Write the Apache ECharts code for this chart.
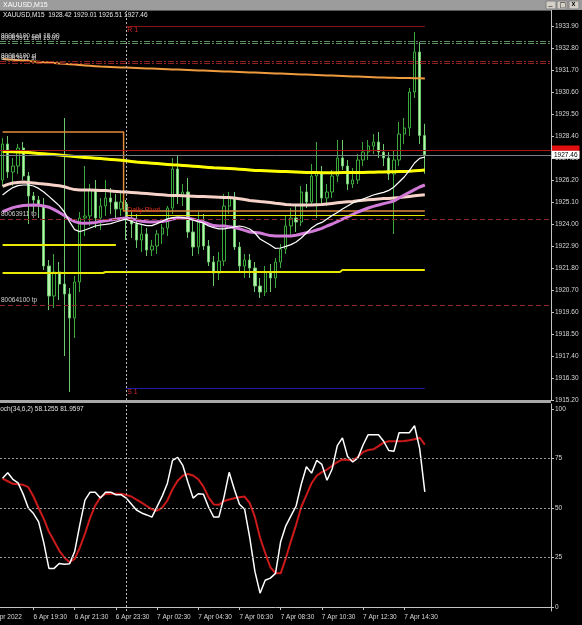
<!DOCTYPE html>
<html>
<head>
<meta charset="utf-8">
<title>XAUUSD,M15</title>
<script src="https://cdn.jsdelivr.net/npm/echarts@6/dist/echarts.min.js"></script>
<style>
  html, body { margin: 0; padding: 0; background: #000; }
  #chart { width: 582px; height: 625px; }
</style>
</head>
<body>
<div id="chart"></div>
<script>
// bars on the chart (M15)
const barTimes = [
  '6 Apr 18:00', '6 Apr 18:15', '6 Apr 18:30', '6 Apr 18:45', '6 Apr 19:00', '6 Apr 19:15', '6 Apr 19:30', '6 Apr 19:45',
  '6 Apr 20:00', '6 Apr 20:15', '6 Apr 20:30', '6 Apr 20:45', '6 Apr 21:00', '6 Apr 21:15', '6 Apr 21:30', '6 Apr 21:45',
  '6 Apr 22:00', '6 Apr 22:15', '6 Apr 22:30', '6 Apr 22:45', '6 Apr 23:00', '6 Apr 23:15', '6 Apr 23:30', '6 Apr 23:45',
  '7 Apr 01:00', '7 Apr 01:15', '7 Apr 01:30', '7 Apr 01:45', '7 Apr 02:00', '7 Apr 02:15', '7 Apr 02:30', '7 Apr 02:45',
  '7 Apr 03:00', '7 Apr 03:15', '7 Apr 03:30', '7 Apr 03:45', '7 Apr 04:00', '7 Apr 04:15', '7 Apr 04:30', '7 Apr 04:45',
  '7 Apr 05:00', '7 Apr 05:15', '7 Apr 05:30', '7 Apr 05:45', '7 Apr 06:00', '7 Apr 06:15', '7 Apr 06:30', '7 Apr 06:45',
  '7 Apr 07:00', '7 Apr 07:15', '7 Apr 07:30', '7 Apr 07:45', '7 Apr 08:00', '7 Apr 08:15', '7 Apr 08:30', '7 Apr 08:45',
  '7 Apr 09:00', '7 Apr 09:15', '7 Apr 09:30', '7 Apr 09:45', '7 Apr 10:00', '7 Apr 10:15', '7 Apr 10:30', '7 Apr 10:45',
  '7 Apr 11:00', '7 Apr 11:15', '7 Apr 11:30', '7 Apr 11:45', '7 Apr 12:00', '7 Apr 12:15', '7 Apr 12:30', '7 Apr 12:45',
  '7 Apr 13:00', '7 Apr 13:15', '7 Apr 13:30', '7 Apr 13:45', '7 Apr 14:00', '7 Apr 14:15', '7 Apr 14:30', '7 Apr 14:45',
  '7 Apr 15:00', '7 Apr 15:15', '7 Apr 15:30'
];
const timeLabels = ['6 Apr 19:30', '6 Apr 21:30', '6 Apr 23:30', '7 Apr 02:30', '7 Apr 04:30',
  '7 Apr 06:30', '7 Apr 08:30', '7 Apr 10:30', '7 Apr 12:30', '7 Apr 14:30'];

const opens = [
  1926.2, 1928.0, 1926.6, 1926.9, 1927.8, 1926.4, 1925.4, 1925.2, 1924.9, 1921.9,
  1920.4, 1921.6, 1921.0, 1920.5, 1919.3, 1921.1, 1924.3, 1924.4, 1925.7, 1924.3,
  1924.9, 1925.3, 1925.1, 1924.75, 1925.0, 1924.2, 1924.0, 1923.2, 1923.5, 1922.7,
  1922.9, 1923.5, 1923.8, 1924.8, 1926.75, 1925.4, 1925.6, 1923.6, 1922.85, 1924.1,
  1922.9, 1922.1, 1921.55, 1922.15, 1924.9, 1925.3, 1922.85, 1921.9, 1922.2, 1921.8,
  1920.9, 1920.6, 1921.6, 1921.3, 1922.1, 1922.75, 1923.9, 1924.3, 1924.1, 1925.6,
  1925.1, 1926.4, 1926.6, 1925.3, 1925.6, 1926.4, 1927.3, 1926.9, 1926.0, 1926.2,
  1927.2, 1927.6, 1927.9, 1928.1, 1927.6, 1927.3, 1926.5, 1927.2, 1928.5, 1928.8,
  1930.6, 1932.6, 1928.42
];
const highs = [
  1928.3, 1928.4, 1927.3, 1928.0, 1928.1, 1926.6, 1925.6, 1925.4, 1925.3, 1922.2,
  1922.5, 1922.1, 1929.3, 1920.8, 1921.4, 1924.6, 1926.9, 1926.0, 1926.2, 1925.3,
  1926.2, 1925.8, 1925.5, 1925.6, 1925.2, 1924.6, 1924.5, 1924.0, 1923.8, 1923.2,
  1923.7, 1924.0, 1924.9, 1927.3, 1927.4, 1926.0, 1926.3, 1924.3, 1924.6, 1924.5,
  1923.2, 1922.4, 1922.6, 1925.5, 1925.6, 1925.6, 1923.1, 1922.5, 1922.5, 1922.1,
  1921.3, 1921.9, 1922.0, 1922.3, 1923.0, 1924.4, 1924.8, 1924.9, 1925.9, 1926.0,
  1927.0, 1928.1, 1926.9, 1926.0, 1926.7, 1928.2, 1928.2, 1927.2, 1926.8, 1927.5,
  1928.1, 1928.2, 1928.5, 1928.6, 1928.0, 1927.6, 1927.7, 1929.1, 1929.3, 1930.8,
  1933.6, 1933.1, 1929.01
];
const lows = [
  1925.9, 1926.3, 1925.9, 1926.5, 1926.2, 1924.0, 1924.6, 1924.3, 1921.7, 1919.7,
  1919.8, 1920.2, 1917.4, 1915.6, 1918.3, 1920.6, 1923.4, 1923.9, 1923.8, 1923.7,
  1924.4, 1924.5, 1924.2, 1924.4, 1923.2, 1923.3, 1922.8, 1922.6, 1922.4, 1922.4,
  1922.5, 1923.0, 1923.4, 1924.5, 1925.0, 1924.9, 1923.3, 1922.4, 1922.5, 1922.7,
  1921.9, 1920.9, 1921.2, 1921.9, 1924.5, 1922.7, 1921.6, 1921.3, 1921.3, 1920.6,
  1920.3, 1920.4, 1920.6, 1920.8, 1921.8, 1922.5, 1923.4, 1923.6, 1923.9, 1924.8,
  1924.9, 1924.3, 1925.0, 1924.9, 1925.3, 1926.1, 1926.7, 1925.7, 1925.8, 1926.0,
  1926.9, 1927.2, 1927.5, 1927.3, 1926.9, 1926.2, 1923.5, 1926.9, 1928.0, 1928.4,
  1930.3, 1928.0, 1926.51
];
const closes = [
  1928.0, 1926.6, 1926.9, 1927.8, 1926.4, 1925.4, 1925.2, 1924.9, 1921.9, 1920.4,
  1921.6, 1921.0, 1920.5, 1919.3, 1921.1, 1924.3, 1924.4, 1925.7, 1924.3, 1924.9,
  1925.3, 1925.1, 1924.75, 1925.1, 1924.2, 1924.0, 1923.2, 1923.5, 1922.7, 1922.9,
  1923.5, 1923.8, 1924.8, 1926.75, 1925.4, 1925.6, 1923.6, 1922.85, 1924.1, 1922.9,
  1922.1, 1921.55, 1922.15, 1924.9, 1925.3, 1922.85, 1921.9, 1922.2, 1921.8, 1920.9,
  1920.6, 1921.6, 1921.3, 1922.1, 1922.75, 1923.9, 1924.3, 1924.1, 1925.6, 1925.1,
  1926.4, 1926.6, 1925.3, 1925.6, 1926.4, 1927.3, 1926.9, 1926.0, 1926.2, 1927.2,
  1927.6, 1927.9, 1928.1, 1927.6, 1927.3, 1926.5, 1927.2, 1928.5, 1928.8, 1930.6,
  1932.6, 1928.42, 1927.46
];

// moving averages
const maYellow = [
  1927.62, 1927.62, 1927.61, 1927.60, 1927.59, 1927.57, 1927.55, 1927.53, 1927.51, 1927.49,
  1927.47, 1927.45, 1927.43, 1927.40, 1927.37, 1927.35, 1927.33, 1927.31, 1927.29, 1927.27,
  1927.25, 1927.23, 1927.21, 1927.19, 1927.16, 1927.13, 1927.10, 1927.08, 1927.06, 1927.04,
  1927.02, 1927.00, 1926.98, 1926.96, 1926.95, 1926.93, 1926.91, 1926.89, 1926.87, 1926.85,
  1926.83, 1926.81, 1926.80, 1926.79, 1926.78, 1926.76, 1926.74, 1926.72, 1926.70, 1926.68,
  1926.67, 1926.66, 1926.65, 1926.64, 1926.63, 1926.62, 1926.61, 1926.60, 1926.59, 1926.58,
  1926.57, 1926.57, 1926.56, 1926.56, 1926.56, 1926.56, 1926.57, 1926.57, 1926.57, 1926.58,
  1926.58, 1926.59, 1926.59, 1926.60, 1926.60, 1926.61, 1926.61, 1926.62, 1926.63, 1926.64,
  1926.66, 1926.68, 1926.70
];
const maPink = [
  1925.88, 1925.98, 1926.05, 1926.08, 1926.10, 1926.08, 1926.05, 1926.02, 1926.00, 1925.97,
  1925.94, 1925.91, 1925.86, 1925.78, 1925.72, 1925.70, 1925.70, 1925.70, 1925.69, 1925.68,
  1925.67, 1925.65, 1925.63, 1925.61, 1925.60, 1925.58, 1925.56, 1925.54, 1925.52, 1925.50,
  1925.48, 1925.46, 1925.44, 1925.43, 1925.42, 1925.41, 1925.40, 1925.39, 1925.38, 1925.37,
  1925.36, 1925.35, 1925.34, 1925.33, 1925.32, 1925.30, 1925.26, 1925.22, 1925.18, 1925.15,
  1925.12, 1925.10, 1925.08, 1925.04, 1925.01, 1924.98, 1924.96, 1924.95, 1924.95, 1924.95,
  1924.95, 1924.96, 1924.97, 1925.00, 1925.03, 1925.06, 1925.09, 1925.11, 1925.13, 1925.16,
  1925.19, 1925.21, 1925.23, 1925.25, 1925.27, 1925.28, 1925.30, 1925.32, 1925.35, 1925.38,
  1925.41, 1925.44, 1925.46
];
const maViolet = [
  1924.62, 1924.72, 1924.82, 1924.88, 1924.92, 1924.94, 1924.95, 1924.94, 1924.90, 1924.84,
  1924.72, 1924.58, 1924.42, 1924.25, 1924.12, 1924.05, 1924.04, 1924.05, 1924.08, 1924.12,
  1924.16, 1924.20, 1924.24, 1924.28, 1924.30, 1924.26, 1924.20, 1924.14, 1924.11, 1924.10,
  1924.11, 1924.13, 1924.17, 1924.25, 1924.30, 1924.30, 1924.29, 1924.24, 1924.17, 1924.10,
  1924.00, 1923.92, 1923.90, 1923.90, 1923.86, 1923.82, 1923.76, 1923.68, 1923.60, 1923.58,
  1923.55, 1923.48, 1923.42, 1923.40, 1923.40, 1923.40, 1923.40, 1923.44, 1923.50, 1923.56,
  1923.62, 1923.70, 1923.78, 1923.90, 1924.00, 1924.12, 1924.24, 1924.36, 1924.48, 1924.60,
  1924.70, 1924.80, 1924.88, 1924.95, 1925.02, 1925.08, 1925.15, 1925.30, 1925.45, 1925.58,
  1925.72, 1925.85, 1925.95
];
const maWhite = [
  1925.45, 1925.65, 1925.82, 1925.92, 1925.95, 1925.95, 1925.90, 1925.78, 1925.60, 1925.38,
  1925.15, 1924.92, 1924.60, 1924.12, 1923.72, 1923.62, 1923.70, 1923.80, 1923.90, 1923.95,
  1923.98, 1924.02, 1924.10, 1924.18, 1924.24, 1924.14, 1924.04, 1923.98, 1923.92, 1923.92,
  1924.02, 1924.14, 1924.26, 1924.32, 1924.35, 1924.32, 1924.28, 1924.20, 1924.12, 1924.05,
  1923.90, 1923.82, 1923.76, 1923.76, 1923.80, 1923.86, 1923.90, 1923.85, 1923.75, 1923.55,
  1923.25, 1923.10, 1922.95, 1922.78, 1922.80, 1922.88, 1922.97, 1923.10, 1923.30, 1923.55,
  1923.80, 1923.98, 1924.08, 1924.25, 1924.42, 1924.58, 1924.75, 1924.90, 1925.05, 1925.15,
  1925.25, 1925.35, 1925.45, 1925.52, 1925.58, 1925.68, 1925.85, 1926.10, 1926.35, 1926.68,
  1927.05, 1927.28, 1927.35
];
const maOrange = [
  1932.25, 1932.23, 1932.21, 1932.19, 1932.17, 1932.15, 1932.13, 1932.11, 1932.09, 1932.07,
  1932.05, 1932.03, 1932.01, 1931.99, 1931.97, 1931.95, 1931.93, 1931.91, 1931.89, 1931.87,
  1931.86, 1931.85, 1931.84, 1931.83, 1931.82, 1931.81, 1931.80, 1931.79, 1931.78, 1931.77,
  1931.76, 1931.75, 1931.74, 1931.73, 1931.72, 1931.71, 1931.70, 1931.69, 1931.68, 1931.67,
  1931.66, 1931.65, 1931.64, 1931.63, 1931.62, 1931.61, 1931.60, 1931.59, 1931.58, 1931.57,
  1931.56, 1931.55, 1931.54, 1931.53, 1931.52, 1931.51, 1931.50, 1931.49, 1931.48, 1931.47,
  1931.46, 1931.45, 1931.44, 1931.43, 1931.42, 1931.41, 1931.40, 1931.39, 1931.38, 1931.37,
  1931.36, 1931.35, 1931.34, 1931.33, 1931.32, 1931.31, 1931.31, 1931.30, 1931.30, 1931.30,
  1931.29, 1931.29, 1931.28
];

// stochastic (34,6,2)
const stochMain = [
  65, 67.8, 64.5, 62.7, 57, 50, 47.2, 43, 32.5, 19.5,
  19.5, 22, 21.6, 21.8, 28, 41.5, 54, 58, 58, 55,
  58, 58, 56.7, 56.7, 55, 52, 49, 47.5, 46.5, 45.4,
  50.7, 56, 62.4, 74, 75.5, 71.5, 63, 55, 57.2, 57,
  50.5, 45.4, 45.4, 55.5, 68, 59.5, 51.9, 49.4, 35, 18,
  7, 13.5, 14.6, 17, 33, 41, 46, 51, 62, 70.8,
  67.6, 74, 72, 64, 69.7, 81.5, 85.4, 76, 73.2, 75.3,
  81.8, 87, 87, 87, 83.7, 79, 78.6, 88, 88, 88,
  91.5, 80, 58.13
];
const stochSignal = [
  64.8, 63.5, 62.2, 62, 61.7, 60.5, 55.8, 50, 44.5, 38,
  33.3, 28.5, 25, 22.6, 24.3, 30, 37, 45, 51.3, 55.5,
  57.1, 57.2, 57.2, 57.2, 56.6, 55.8, 54.2, 52.7, 51, 49.3,
  48.6, 50.2, 53.8, 59.5, 63.8, 66.3, 67.2, 66.4, 64.5, 60.8,
  55.4, 51.8, 51.6, 53.5, 54.3, 54.9, 55.4, 55.8, 52.5, 45.5,
  35, 27.3, 20.1, 17.1, 17, 24.6, 33.3, 41.5, 50.5, 56.5,
  62.5, 66.3, 68.1, 69.4, 71.3, 73.2, 74.5, 74.4, 73.9, 75.9,
  78.2, 79.3, 79.6, 81.2, 83, 83.7, 83.7, 83.7, 83.8, 84.2,
  84.7, 85.5, 81.96
];

// axis ticks
const priceTicks = [1915.2, 1916.3, 1917.4, 1918.5, 1919.6, 1920.7, 1921.8, 1922.9, 1924.0,
  1925.1, 1926.2, 1927.3, 1928.4, 1929.5, 1930.6, 1931.7, 1932.8, 1933.9];
const stochTicks = [0, 25, 50, 75, 100];
const stochLevels = [25, 50, 75];

// horizontal objects
const orderLines = [
  { name: '80064100 sell 15.00', price: 1933.15, kind: 'entry' },
  { name: '80063911 sell 15.00', price: 1933.05, kind: 'entry' },
  { name: '80064100 sl', price: 1932.15, kind: 'sl' },
  { name: '80063911 sl', price: 1932.05, kind: 'sl' },
  { name: '80063911 tp', price: 1924.25, kind: 'tp' },
  { name: '80064100 tp', price: 1919.95, kind: 'tp' }
];
const askPrice = 1927.70;
const bidPrice = 1927.46;
const r1Level = 1933.9;
const s1Level = 1915.8;
const pivotLevel = 1924.45;
const dayRangeSteps = [['6 Apr 18:00', 1928.6], ['6 Apr 23:45', 1928.6], ['7 Apr 01:00', 1924.65], ['7 Apr 15:30', 1924.65]];
const prevLevelSteps = [['6 Apr 18:00', 1922.95], ['6 Apr 23:30', 1922.95]];
const lowLevelSteps = [['6 Apr 18:00', 1921.55], ['6 Apr 22:45', 1921.55], ['6 Apr 23:00', 1921.6],
  ['7 Apr 11:15', 1921.6], ['7 Apr 11:30', 1921.7], ['7 Apr 15:30', 1921.7]];

const chart = echarts.init(document.getElementById('chart'));

const font = 'Liberation Sans';
const txt = { fontFamily: font, fontSize: 6.5, color: '#d8d8d8' };
const axisGrey = '#c4c4c4';
const slots = barTimes.concat(Array.from({ length: 24 }, (_, i) => '+' + (i + 1)));
const candles = barTimes.map((t, i) => [opens[i], closes[i], lows[i], highs[i]]);
const showTime = (i, v) => timeLabels.includes(v);
const last = barTimes.length - 1;
const firstToday = '7 Apr 01:00';
const lastBar = barTimes[last];

const orderStyle = {
  entry: { color: '#5f8c63', type: [6, 2, 2, 2], width: 1 },
  sl: { color: '#8e2222', type: [6, 2, 2, 2], width: 1 },
  tp: { color: '#8e2a2a', type: [5, 3], width: 1 }
};

function lineSeries(data, color, width, z) {
  return {
    type: 'line', xAxisIndex: 0, yAxisIndex: 0, data: data,
    showSymbol: false, symbol: 'none', silent: true, z: z,
    lineStyle: { color: color, width: width }
  };
}
function segment(level, color, labelText, labelColor, pos) {
  return [
    {
      coord: [firstToday, level],
      lineStyle: { color: color, width: 1, type: 'solid' },
      label: labelText ? { show: true, position: pos, formatter: labelText, color: labelColor,
        fontFamily: font, fontSize: 7, distance: 1 } : { show: false }
    },
    { coord: [lastBar, level] }
  ];
}

const option = {
  backgroundColor: '#000',
  animation: false,
  grid: [
    { left: 0, top: 10, width: 551, height: 390 },
    { left: 0, top: 404, width: 551, height: 207 }
  ],
  xAxis: [
    {
      type: 'category', gridIndex: 0, data: slots, boundaryGap: true,
      axisLine: { show: false }, axisTick: { show: false }, axisLabel: { show: false },
      splitLine: { show: false }
    },
    {
      type: 'category', gridIndex: 1, data: slots, boundaryGap: true,
      axisLine: { show: true, lineStyle: { color: axisGrey } },
      axisTick: { show: true, alignWithLabel: true, interval: showTime, length: 3, lineStyle: { color: axisGrey } },
      axisLabel: Object.assign({ interval: showTime, align: 'left', margin: 3 }, txt),
      splitLine: { show: false }
    }
  ],
  yAxis: [
    {
      type: 'value', gridIndex: 0, position: 'right', min: 1915.2, max: 1934.7,
      splitLine: { show: false },
      axisLine: { show: true, lineStyle: { color: axisGrey } },
      axisTick: { show: true, customValues: priceTicks, length: 3, lineStyle: { color: axisGrey } },
      axisLabel: Object.assign({ customValues: priceTicks, formatter: v => v.toFixed(2), margin: 4 }, txt)
    },
    {
      type: 'value', gridIndex: 1, position: 'right', min: -2, max: 102.5,
      splitLine: { show: false },
      axisLine: { show: true, lineStyle: { color: axisGrey } },
      axisTick: { show: true, customValues: stochTicks, length: 3, lineStyle: { color: axisGrey } },
      axisLabel: Object.assign({ customValues: stochTicks, formatter: v => String(v), margin: 4 }, txt)
    }
  ],
  graphic: [
    { type: 'rect', shape: { x: 0, y: 0, width: 582, height: 10 }, style: { fill: '#9c9c9c' }, z: 100 },
    { type: 'text', x: 3, y: 1.5, style: { text: 'XAUUSD,M15', fill: '#ffffff', font: '7px ' + font }, z: 101 },
    { type: 'rect', shape: { x: 546, y: 1, width: 10, height: 8 }, style: { fill: '#d4d0c8', stroke: '#808080' }, z: 101 },
    { type: 'rect', shape: { x: 557, y: 1, width: 10, height: 8 }, style: { fill: '#d4d0c8', stroke: '#808080' }, z: 101 },
    { type: 'rect', shape: { x: 569, y: 1, width: 10, height: 8 }, style: { fill: '#d4d0c8', stroke: '#808080' }, z: 101 },
    { type: 'text', x: 548.5, y: 0, style: { text: '_', fill: '#000', font: '7px ' + font }, z: 102 },
    { type: 'text', x: 559.5, y: 1.5, style: { text: '□', fill: '#000', font: '7px DejaVu Sans' }, z: 102 },
    { type: 'text', x: 571.5, y: 1, style: { text: 'x', fill: '#000', font: 'bold 7px ' + font }, z: 102 },
    { type: 'rect', shape: { x: 0, y: 10, width: 551, height: 1 }, style: { fill: '#5a5a5a' }, z: 50 },
    { type: 'rect', shape: { x: 0, y: 400, width: 551, height: 3 }, style: { fill: '#a8a8a8' }, z: 50 },
    {
      type: 'text', x: 3, y: 12,
      style: {
        text: 'XAUUSD,M15  ' + [opens[last], highs[last], lows[last], closes[last]].map(v => v.toFixed(2)).join(' '),
        fill: '#e8e8e8', font: '6.5px ' + font
      }, z: 60
    },
    { type: 'text', x: -6, y: 406, style: { text: 'Stoch(34,6,2) 58.1255 81.9597', fill: '#e0e0e0', font: '6.5px ' + font }, z: 60 },
    { type: 'text', x: -10, y: 614, style: { text: '6 Apr 2022', fill: '#d8d8d8', font: '6.5px ' + font }, z: 60 }
  ],
  series: [
    {
      name: 'XAUUSD', type: 'candlestick', xAxisIndex: 0, yAxisIndex: 0, data: candles,
      barWidth: 2.8, silent: true, z: 2,
      itemStyle: { color: '#000000', borderColor: '#3aa83a', color0: '#baf3b0', borderColor0: '#6cc86c', borderWidth: 1 },
      markLine: {
        symbol: ['none', 'none'], silent: true, animation: false,
        data: [
          { xAxis: firstToday, lineStyle: { color: '#b8b8b8', type: [2, 2], width: 1 }, label: { show: false } }
        ].concat(orderLines.map(o => ({
          yAxis: o.price, lineStyle: orderStyle[o.kind],
          label: { show: true, position: 'insideStartTop', formatter: o.name, distance: 1,
            fontFamily: font, fontSize: 6.5, color: '#d0d0d0' }
        }))).concat([
          segment(r1Level, '#8c1414', 'R 1', '#d02828', 'insideStartBottom'),
          segment(s1Level, '#1c1ca8', 'S 1', '#d02828', 'insideStartBottom'),
          segment(pivotLevel, '#e6e600', 'Daily Pivot', '#d83020', 'insideStartTop'),
          {
            yAxis: askPrice, lineStyle: { color: '#b01414', width: 1, type: 'solid' },
            label: { show: true, position: 'end', distance: 1, formatter: askPrice.toFixed(2),
              backgroundColor: '#e01010', color: '#e01010', padding: [1, 2, 1, 2], fontFamily: font, fontSize: 6.5 }
          },
          {
            yAxis: bidPrice, lineStyle: { color: '#7a7f86', width: 1, type: 'solid' },
            label: { show: true, position: 'end', distance: 1, formatter: bidPrice.toFixed(2),
              backgroundColor: '#ffffff', color: '#000000', padding: [1, 2, 0, 2], fontFamily: font, fontSize: 6.5 }
          }
        ])
      }
    },
    lineSeries(maOrange, '#f09a3e', 2, 3),
    Object.assign(lineSeries(dayRangeSteps, '#e08c38', 1.5, 3), { step: 'middle' }),
    lineSeries(prevLevelSteps, '#e8e800', 2, 3),
    Object.assign(lineSeries(lowLevelSteps, '#e8e800', 2, 3), { step: 'middle' }),
    lineSeries(maPink, '#f6d2c8', 3, 4),
    lineSeries(maViolet, '#d27ad8', 3, 4),
    lineSeries(maYellow, '#ffff00', 3, 4),
    lineSeries(maWhite, '#ffffff', 1.2, 5),
    {
      name: 'Main', type: 'line', xAxisIndex: 1, yAxisIndex: 1, data: stochMain,
      showSymbol: false, symbol: 'none', silent: true, z: 4,
      lineStyle: { color: '#ffffff', width: 1.5 },
      markLine: {
        symbol: ['none', 'none'], silent: true, animation: false, label: { show: false },
        data: [{ xAxis: firstToday, lineStyle: { color: '#b8b8b8', type: [2, 2], width: 1 } }]
          .concat(stochLevels.map(v => ({ yAxis: v, lineStyle: { color: '#9a9a9a', type: [2, 2], width: 1 } })))
      }
    },
    {
      name: 'Signal', type: 'line', xAxisIndex: 1, yAxisIndex: 1, data: stochSignal,
      showSymbol: false, symbol: 'none', silent: true, z: 3,
      lineStyle: { color: '#cc1a1a', width: 2 }
    }
  ]
};

chart.setOption(option);
</script>
</body>
</html>
